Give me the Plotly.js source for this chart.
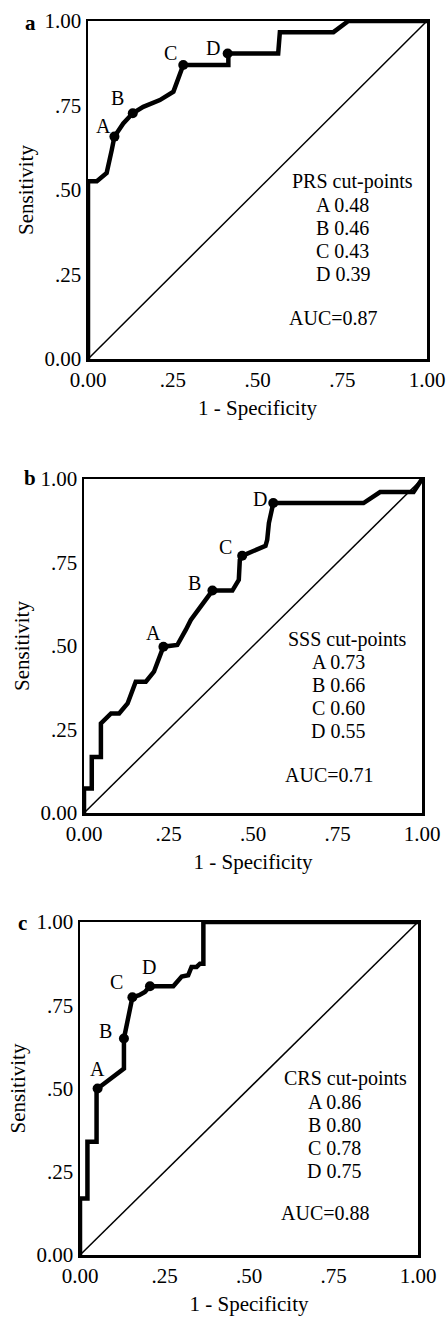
<!DOCTYPE html>
<html>
<head>
<meta charset="utf-8">
<script src="https://cdn.plot.ly/plotly-3.0.1.min.js"></script>
<style>html,body{margin:0;padding:0;background:#fff;}#chart{width:447px;height:1319px;}</style>
</head>
<body>
<div id="chart"></div>
<script>
// ---- Data ----
const tickVals = [0, 0.25, 0.5, 0.75, 1];
const tickText = ['0.00', '.25', '.50', '.75', '1.00'];
const cutLetters = ['A', 'B', 'C', 'D'];

// Panel a: PRS
const fprA  = [0, 0, 0.026, 0.055, 0.07, 0.078, 0.104, 0.132, 0.163, 0.212, 0.252, 0.271, 0.281, 0.414, 0.414, 0.561, 0.566, 0.724, 0.768, 1.0];
const sensA = [0, 0.526, 0.526, 0.55, 0.618, 0.658, 0.697, 0.727, 0.746, 0.766, 0.791, 0.845, 0.870, 0.870, 0.904, 0.904, 0.967, 0.967, 1.0, 1.0];
const cutFprA  = [0.078, 0.132, 0.281, 0.412];
const cutSensA = [0.658, 0.727, 0.870, 0.904];
const cutValA  = ['0.48', '0.46', '0.43', '0.39'];
const aucA = '0.87';

// Panel b: SSS
const fprB  = [0, 0, 0.023, 0.023, 0.05, 0.05, 0.08, 0.104, 0.129, 0.153, 0.183, 0.207, 0.235, 0.276, 0.301, 0.316, 0.38, 0.439, 0.458, 0.461, 0.468, 0.537, 0.542, 0.547, 0.56, 0.827, 0.876, 0.975, 1.0];
const sensB = [0, 0.073, 0.073, 0.168, 0.168, 0.268, 0.298, 0.298, 0.328, 0.393, 0.393, 0.423, 0.498, 0.503, 0.548, 0.578, 0.666, 0.666, 0.698, 0.758, 0.77, 0.8, 0.818, 0.868, 0.928, 0.928, 0.961, 0.961, 1.0];
const cutFprB  = [0.235, 0.38, 0.468, 0.56];
const cutSensB = [0.498, 0.666, 0.77, 0.928];
const cutValB  = ['0.73', '0.66', '0.60', '0.55'];
const aucB = '0.71';

// Panel c: CRS
const fprC  = [0, 0, 0.022, 0.022, 0.049, 0.049, 0.052, 0.065, 0.13, 0.13, 0.155, 0.175, 0.192, 0.207, 0.276, 0.301, 0.32, 0.33, 0.345, 0.355, 0.365, 0.365, 1.0];
const sensC = [0, 0.17, 0.17, 0.34, 0.34, 0.50, 0.50, 0.51, 0.56, 0.65, 0.774, 0.78, 0.79, 0.807, 0.807, 0.836, 0.84, 0.865, 0.865, 0.875, 0.875, 1.0, 1.0];
const cutFprC  = [0.052, 0.13, 0.155, 0.207];
const cutSensC = [0.50, 0.65, 0.774, 0.807];
const cutValC  = ['0.86', '0.80', '0.78', '0.75'];
const aucC = '0.88';

const scoreNames = ['PRS', 'SSS', 'CRS'];
const panelLetters = ['a', 'b', 'c'];

// ---- Styling / layout ----
const W = 447, H = 1319;
const FONT = '"Liberation Serif", "Times New Roman", serif';
const boxes = [ // pixel frames: left, right, top, bottom
  {l: 88, r: 427, t: 21, b: 359},
  {l: 84, r: 422, t: 479, b: 813},
  {l: 80, r: 418, t: 922, b: 1255}
];
const letterOffsets = [
  [[-11, 11], [-15, 15], [-13, 12], [-15, 5]],
  [[-10, 14], [-18, 8], [-17, 9], [-13, 4]],
  [[0, 20], [-18, 8], [-16, 15], [-1, 19]]
];
// text block: title y (data units) and pixel line step
const textPos = [
  {tx: 0.78, ty: 0.525, lx: 0.751, ax: 0.723, ay: 0.12},
  {tx: 0.78, ty: 0.52, lx: 0.752, ax: 0.725, ay: 0.113},
  {tx: 0.786, ty: 0.53, lx: 0.752, ax: 0.725, ay: 0.125}
];
const LINE_STEP = 23; // px
const panels = [
  {fpr: fprA, sens: sensA, cf: cutFprA, cs: cutSensA, cv: cutValA, auc: aucA},
  {fpr: fprB, sens: sensB, cf: cutFprB, cs: cutSensB, cv: cutValB, auc: aucB},
  {fpr: fprC, sens: sensC, cf: cutFprC, cs: cutSensC, cv: cutValC, auc: aucC}
];

const TXT = 20, TICK = 21, TITLE = 21, LETTER = 20;

const data = [];
const layout = {
  width: W, height: H,
  margin: {l: 0, r: 0, t: 0, b: 0},
  paper_bgcolor: '#fff', plot_bgcolor: '#fff',
  showlegend: false,
  font: {family: FONT, color: '#000', size: TXT},
  annotations: []
};

panels.forEach((p, i) => {
  const n = i === 0 ? '' : String(i + 1);
  const xa = 'x' + n, ya = 'y' + n;
  const bx = boxes[i];
  const axBase = {
    range: [0, 1], tickvals: tickVals, ticktext: tickText,
    showgrid: false, zeroline: false, showline: true, mirror: true,
    linecolor: '#000', linewidth: 2.5, ticks: '', fixedrange: true,
    tickfont: {family: FONT, size: TICK, color: '#000'}
  };
  layout['xaxis' + n] = Object.assign({}, axBase, {
    domain: [bx.l / W, bx.r / W], anchor: ya,
    title: {text: '1 - Specificity', font: {family: FONT, size: TITLE}, standoff: 10}
  });
  layout['yaxis' + n] = Object.assign({}, axBase, {
    domain: [1 - bx.b / H, 1 - bx.t / H], anchor: xa,
    title: {text: 'Sensitivity', font: {family: FONT, size: TITLE}, standoff: 5}
  });
  data.push({x: [0, 1], y: [0, 1], xaxis: xa, yaxis: ya, mode: 'lines',
    line: {color: '#000', width: 1.5}, hoverinfo: 'skip'});
  data.push({x: p.fpr, y: p.sens, xaxis: xa, yaxis: ya, mode: 'lines',
    line: {color: '#000', width: 4.5}, hoverinfo: 'skip'});
  data.push({x: p.cf, y: p.cs, xaxis: xa, yaxis: ya, mode: 'markers',
    marker: {color: '#000', size: 10}, hoverinfo: 'skip'});
  p.cf.forEach((fx, k) => {
    layout.annotations.push({xref: xa, yref: ya, x: fx, y: p.cs[k], text: cutLetters[k],
      showarrow: false, xanchor: 'center', yanchor: 'middle',
      xshift: letterOffsets[i][k][0], yshift: letterOffsets[i][k][1],
      font: {family: FONT, size: LETTER, color: '#000'}});
  });
  const tp = textPos[i];
  const txtAnn = (x, y, t, ys) => ({xref: xa, yref: ya, x: x, y: y, text: t, yshift: ys || 0,
    showarrow: false, xanchor: 'center', yanchor: 'middle', font: {family: FONT, size: TXT}});
  layout.annotations.push(txtAnn(tp.tx, tp.ty, scoreNames[i] + ' cut-points'));
  p.cv.forEach((v, k) => {
    layout.annotations.push(txtAnn(tp.lx, tp.ty, cutLetters[k] + ' ' + v, -LINE_STEP * (k + 1)));
  });
  layout.annotations.push(txtAnn(tp.ax, tp.ay, 'AUC=' + p.auc));
});

// panel letters
const letterPix = [[30, 23], [30, 478], [22, 923]];
letterPix.forEach((lp, i) => {
  layout.annotations.push({xref: 'paper', yref: 'paper', x: lp[0] / W, y: 1 - lp[1] / H,
    xanchor: 'center', yanchor: 'middle',
    text: '<b>' + panelLetters[i] + '</b>', showarrow: false,
    font: {family: FONT, size: 21, color: '#000'}});
});

Plotly.newPlot('chart', data, layout, {displayModeBar: false, staticPlot: true});
</script>
</body>
</html>
